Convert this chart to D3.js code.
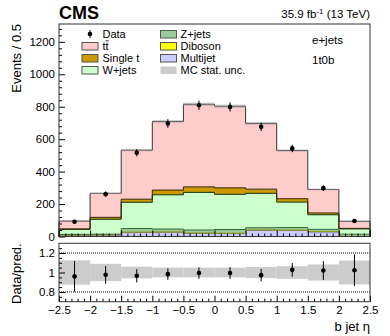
<!DOCTYPE html>
<html><head><meta charset="utf-8">
<script src="https://cdn.jsdelivr.net/npm/d3@7"></script>
<style>
html,body{margin:0;padding:0;background:#fff;}
svg{display:block;font-family:"Liberation Sans",Arial,sans-serif;}
</style></head>
<body>
<svg id="c" width="390" height="336"></svg>
<script>
// ---- data ----
const binEdges = [-2.5,-2,-1.5,-1,-0.5,0,0.5,1,1.5,2,2.5];
const multijet = [8, 9, 25, 26, 19, 18, 38, 37, 28, 0];
const diboson  = [1, 1, 2, 2, 2, 2, 2, 2, 2, 1];
const zjets    = [4, 4, 22, 18, 19, 23, 14, 16, 14, 13];
const wjets    = [31, 92, 162, 211, 232, 217, 212, 157, 90, 33];
const singlet  = [3, 12, 19, 29, 34, 40, 26, 21, 11, 3];
const ttbar    = [48, 148, 302, 423, 509, 503, 405, 297, 145, 44];
const dataVals = [91, 261, 516, 697, 809, 799, 676, 543, 298, 96];
const dataErr  = [9.5, 16.2, 22.7, 26.4, 28.4, 28.3, 26.0, 23.3, 17.3, 9.8];
const mcUncMain = [0.02, 0.015, 0.012, 0.012, 0.012, 0.012, 0.012, 0.012, 0.015, 0.02];
const ratioVals = [0.96, 0.976, 0.966, 0.983, 0.995, 0.995, 0.973, 1.027, 1.02, 1.023];
const ratioErr  = [0.157, 0.091, 0.068, 0.059, 0.059, 0.061, 0.064, 0.07, 0.096, 0.162];
const ratioBand = [0.125, 0.089, 0.06, 0.05, 0.05, 0.05, 0.057, 0.065, 0.083, 0.123];
const yTicks = [0, 200, 400, 600, 800, 1000, 1200];
const rTicks = [0.8, 1, 1.2];
const xTicks = [-2.5,-2,-1.5,-1,-0.5,0,0.5,1,1.5,2,2.5];

const svg = d3.select("#c");
const L = 59, R = 370, T = 24, B = 236.5, RT = 243.3, RB = 301.7;
const x = d3.scaleLinear().domain([-2.5, 2.5]).range([L, R]);
const y = d3.scaleLinear().domain([0, 1310]).range([B, T]);
const yr = d3.scaleLinear().domain([0.7, 1.3]).range([RB, RT]);
const nb = dataVals.length;
const centers = d3.range(nb).map(i => (binEdges[i] + binEdges[i+1]) / 2);

// stack: bottom -> top
const layers = [
  {name:"Multijet", vals:multijet, fill:"#ccccff", stroke:"#6666aa"},
  {name:"Diboson", vals:diboson, fill:"#ffff00", stroke:"#999900"},
  {name:"Z+jets", vals:zjets, fill:"#99cc99", stroke:"#336633"},
  {name:"W+jets", vals:wjets, fill:"#ccffcc", stroke:"#113311"},
  {name:"Single t", vals:singlet, fill:"#cc9900", stroke:"#332200"},
  {name:"tt", vals:ttbar, fill:"#ffcccc", stroke:"#333333"}
];
const cum = d3.range(nb).map(() => 0);
const cumTops = [];
layers.forEach(l => {
  const lo = cum.slice();
  l.vals.forEach((v, i) => cum[i] += v);
  cumTops.push({layer:l, lo:lo, hi:cum.slice()});
});
const total = cum.slice();

function stepArea(lo, hi) {
  let p = "";
  for (let i = 0; i < nb; i++) {
    p += (i === 0 ? "M" : "L") + x(binEdges[i]) + "," + y(hi[i]);
    p += "L" + x(binEdges[i+1]) + "," + y(hi[i]);
  }
  for (let i = nb - 1; i >= 0; i--) {
    p += "L" + x(binEdges[i+1]) + "," + y(lo[i]);
    p += "L" + x(binEdges[i]) + "," + y(lo[i]);
  }
  return p + "Z";
}
function stepLine(hi) {
  let p = "M" + x(binEdges[0]) + "," + y(0);
  for (let i = 0; i < nb; i++) {
    p += "L" + x(binEdges[i]) + "," + y(hi[i]);
    p += "L" + x(binEdges[i+1]) + "," + y(hi[i]);
  }
  p += "L" + x(binEdges[nb]) + "," + y(0);
  return p;
}

const gMain = svg.append("g");
cumTops.forEach(c => {
  gMain.append("path").attr("d", stepArea(c.lo, c.hi)).attr("fill", c.layer.fill).attr("stroke", "none");
});
cumTops.forEach(c => {
  gMain.append("path").attr("d", stepLine(c.hi)).attr("fill", "none")
    .attr("stroke", c.layer.stroke).attr("stroke-width", 1);
});
gMain.selectAll("rect.unc").data(d3.range(nb)).enter().append("rect")
  .attr("x", i => x(binEdges[i])).attr("width", i => x(binEdges[i+1]) - x(binEdges[i]))
  .attr("y", i => y(total[i] * (1 + mcUncMain[i])))
  .attr("height", i => y(total[i] * (1 - mcUncMain[i])) - y(total[i] * (1 + mcUncMain[i])))
  .attr("fill", "#999").attr("opacity", 0.5);

gMain.selectAll("line.err").data(d3.range(nb)).enter().append("line")
  .attr("x1", i => x(centers[i])).attr("x2", i => x(centers[i]))
  .attr("y1", i => y(dataVals[i] - dataErr[i])).attr("y2", i => y(dataVals[i] + dataErr[i]))
  .attr("stroke", "#000").attr("stroke-width", 1);
gMain.selectAll("circle.dp").data(d3.range(nb)).enter().append("circle")
  .attr("cx", i => x(centers[i])).attr("cy", i => y(dataVals[i])).attr("r", 2.3).attr("fill", "#000");

function addAxis(g, axis) {
  g.call(axis); g.select(".domain").remove();
  g.selectAll("text").attr("font-size", "11.5px").attr("fill", "#000").attr("font-family", "Liberation Sans, Arial, sans-serif");
  g.selectAll("line").attr("stroke", "#000");
}
const minorX = d3.range(-24, 25, 1).map(v => v / 10).filter(v => Math.abs(v * 2 - Math.round(v * 2)) > 1e-6);
addAxis(svg.append("g").attr("transform", `translate(${L},0)`),
  d3.axisLeft(y).tickValues(yTicks).tickSize(-6).tickPadding(4).tickFormat(d3.format("d")));
addAxis(svg.append("g").attr("transform", `translate(${L},0)`),
  d3.axisLeft(y).tickValues(d3.range(0, 1310, 40).filter(v => v % 200 !== 0)).tickSize(-3).tickFormat(""));
addAxis(svg.append("g").attr("transform", `translate(0,${B})`),
  d3.axisBottom(x).tickValues(xTicks).tickSize(-6).tickFormat(""));
addAxis(svg.append("g").attr("transform", `translate(0,${B})`),
  d3.axisBottom(x).tickValues(minorX).tickSize(-3).tickFormat(""));
svg.append("rect").attr("x", L).attr("y", T).attr("width", R - L).attr("height", B - T)
  .attr("fill", "none").attr("stroke", "#333").attr("stroke-width", 1);

// ratio panel
const gR = svg.append("g");
gR.selectAll("rect.band").data(d3.range(nb)).enter().append("rect")
  .attr("x", i => x(binEdges[i])).attr("width", i => x(binEdges[i+1]) - x(binEdges[i]))
  .attr("y", i => yr(1 + ratioBand[i])).attr("height", i => yr(1 - ratioBand[i]) - yr(1 + ratioBand[i]))
  .attr("fill", "#cccccc");
[0.8, 1.2].forEach(v => {
  gR.append("line").attr("x1", L).attr("x2", R).attr("y1", yr(v)).attr("y2", yr(v))
    .attr("stroke", "#000").attr("stroke-width", 1).attr("stroke-dasharray", "1,1");
});
gR.selectAll("line.rerr").data(d3.range(nb)).enter().append("line")
  .attr("x1", i => x(centers[i])).attr("x2", i => x(centers[i]))
  .attr("y1", i => yr(ratioVals[i] - ratioErr[i])).attr("y2", i => yr(ratioVals[i] + ratioErr[i]))
  .attr("stroke", "#000").attr("stroke-width", 1);
gR.selectAll("circle.rp").data(d3.range(nb)).enter().append("circle")
  .attr("cx", i => x(centers[i])).attr("cy", i => yr(ratioVals[i])).attr("r", 2.3).attr("fill", "#000");

addAxis(svg.append("g").attr("transform", `translate(${L},0)`),
  d3.axisLeft(yr).tickValues(rTicks).tickSize(-6).tickPadding(4).tickFormat(d => d === 1 ? "1" : d3.format(".1f")(d)));
addAxis(svg.append("g").attr("transform", `translate(${L},0)`),
  d3.axisLeft(yr).tickValues([0.75, 0.85, 0.9, 0.95, 1.05, 1.1, 1.15, 1.25]).tickSize(-3).tickFormat(""));
addAxis(svg.append("g").attr("transform", `translate(0,${RB})`),
  d3.axisBottom(x).tickValues(xTicks).tickSize(-6).tickPadding(4)
  .tickFormat(d => (d < 0 ? "\u2212" : "") + d3.format("")(Math.abs(d))));
addAxis(svg.append("g").attr("transform", `translate(0,${RB})`),
  d3.axisBottom(x).tickValues(minorX).tickSize(-3).tickFormat(""));
svg.append("rect").attr("x", L).attr("y", RT).attr("width", R - L).attr("height", RB - RT)
  .attr("fill", "none").attr("stroke", "#333").attr("stroke-width", 1);

// labels
svg.append("text").attr("x", L).attr("y", 18.5).attr("font-size", "18px").attr("font-weight", "bold").text("CMS");
const lumi = svg.append("text").attr("x", R).attr("y", 18).attr("font-size", "11.5px").attr("text-anchor", "end");
lumi.append("tspan").text("35.9 fb");
lumi.append("tspan").attr("font-size", "8px").attr("dy", "-4").text("-1");
lumi.append("tspan").attr("dy", "4").text(" (13 TeV)");
svg.append("text").attr("x", 312).attr("y", 44).attr("font-size", "11.5px").text("e+jets");
svg.append("text").attr("x", 312).attr("y", 64).attr("font-size", "11.5px").text("1t0b");
svg.append("text").attr("transform", `translate(21,${T}) rotate(-90)`).attr("text-anchor", "end")
  .attr("font-size", "13px").text("Events / 0.5");
svg.append("text").attr("transform", `translate(21,${RT}) rotate(-90)`).attr("text-anchor", "end")
  .attr("font-size", "13px").text("Data/pred.");
svg.append("text").attr("x", R).attr("y", 331).attr("text-anchor", "end").attr("font-size", "13px").text("b jet \u03b7");

// legend
const leg = svg.append("g").attr("font-size", "11px");
const rows = [34, 46, 58, 70];
leg.append("line").attr("x1", 90).attr("x2", 90).attr("y1", rows[0] - 4).attr("y2", rows[0] + 4).attr("stroke", "#000");
leg.append("circle").attr("cx", 90).attr("cy", rows[0]).attr("r", 2.3).attr("fill", "#000");
leg.append("text").attr("x", 102.5).attr("y", rows[0] + 4).text("Data");
const legItems = [
  {col:0, row:1, layer:layers[5], label:"tt"},
  {col:0, row:2, layer:layers[4], label:"Single t"},
  {col:0, row:3, layer:layers[3], label:"W+jets"},
  {col:1, row:0, layer:layers[2], label:"Z+jets"},
  {col:1, row:1, layer:layers[1], label:"Diboson"},
  {col:1, row:2, layer:layers[0], label:"Multijet"},
  {col:1, row:3, layer:{fill:"#cccccc", stroke:"none"}, label:"MC stat. unc."}
];
legItems.forEach(it => {
  const bx = it.col === 0 ? 82 : 160.5;
  const tx = it.col === 0 ? 102.5 : 180.5;
  leg.append("rect").attr("x", bx).attr("y", rows[it.row] - 3.5).attr("width", 16).attr("height", 7.5)
    .attr("fill", it.layer.fill).attr("stroke", it.layer.stroke === "none" ? "none" : "#555").attr("stroke-width", 1);
  leg.append("text").attr("x", tx).attr("y", rows[it.row] + 4).text(it.label);
  if (it.label === "tt") {
    leg.append("line").attr("x1", tx + 3.3).attr("x2", tx + 6.2).attr("y1", rows[it.row] - 5.2).attr("y2", rows[it.row] - 5.2)
      .attr("stroke", "#000").attr("stroke-width", 0.8);
  }
});
</script>
</body></html>
